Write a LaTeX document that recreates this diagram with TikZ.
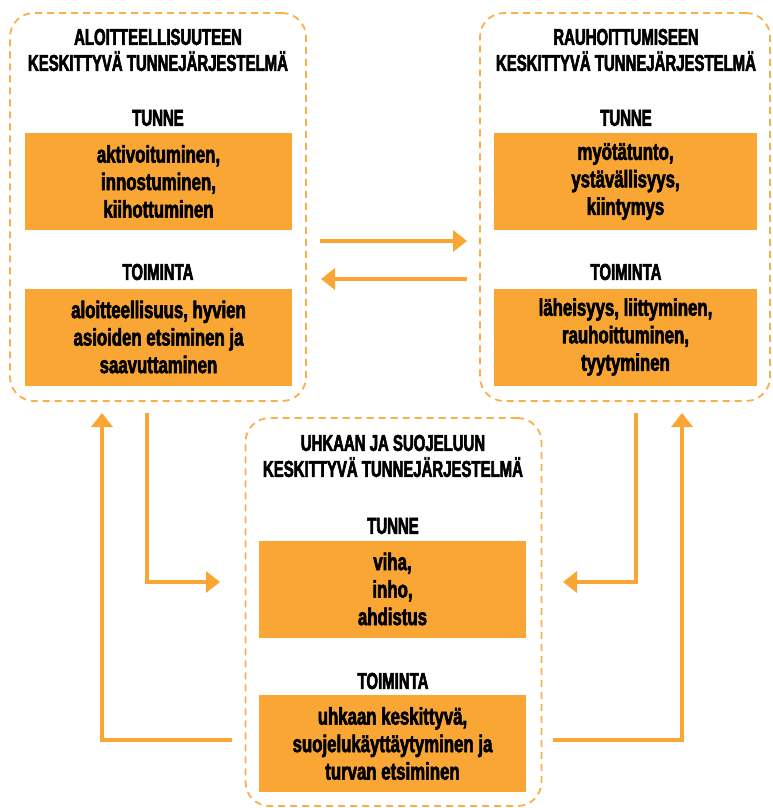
\documentclass[tikz,border=0pt]{standalone}
\usepackage{fontspec}
\newfontfamily\cond[FakeStretch=0.65,FakeBold=2.5]{Liberation Sans Bold}
\newfontfamily\condb[FakeStretch=0.70,FakeBold=2.5]{Liberation Sans Bold}
\usetikzlibrary{arrows.meta}
\definecolor{org}{HTML}{F9A634}
\definecolor{orgdash}{HTML}{F9B04A}
\tikzset{
  outer/.style={draw=orgdash, line width=1.8pt, dash pattern=on 7pt off 5pt, rounded corners=24pt, minimum width=#1, minimum height=388pt, inner sep=0pt},
  obox/.style={fill=org, minimum width=267pt, minimum height=97pt, inner sep=0pt, align=center, font=\condb\fontsize{24}{27.5}\selectfont},
  ttl/.style={align=center, inner sep=0pt, font=\cond\fontsize{23}{26}\selectfont},
  conn/.style={draw=org, line width=4pt, -{Triangle[length=14pt,width=21pt]}}
}
\begin{document}
\begin{tikzpicture}[x=1pt,y=-1pt]
\useasboundingbox (0,0) rectangle (773,808);
% outer dashed boxes
\node[outer=296pt] (L) at (158,207) {};
\node[outer=290pt] (R) at (625,207) {};
\node[outer=296pt] (B) at (393.5,612) {};
% left
\node[ttl] (Lt) at (158,50) {ALOITTEELLISUUTEEN\\KESKITTYVÄ TUNNEJÄRJESTELMÄ};
\node[ttl] (Ltu) at (158,118) {TUNNE};
\node[obox] (Lb1) at (158.5,181.5) {aktivoituminen,\\innostuminen,\\kiihottuminen};
\node[ttl] (Lto) at (158,272) {TOIMINTA};
\node[obox] (Lb2) at (158.5,337) {aloitteellisuus, hyvien\\asioiden etsiminen ja\\saavuttaminen};
% right
\node[ttl] (Rt) at (626,50) {RAUHOITTUMISEEN\\KESKITTYVÄ TUNNEJÄRJESTELMÄ};
\node[ttl] (Rtu) at (626,118) {TUNNE};
\node[obox, minimum width=263pt] (Rb1) at (625.5,181.5) {myötätunto,\\ystävällisyys,\\kiintymys};
\node[ttl] (Rto) at (626,272) {TOIMINTA};
\node[obox, minimum width=263pt] (Rb2) at (625.5,337) {läheisyys, liittyminen,\\rauhoittuminen,\\tyytyminen};
% bottom
\node[ttl] (Bt) at (393,456) {UHKAAN JA SUOJELUUN\\KESKITTYVÄ TUNNEJÄRJESTELMÄ};
\node[ttl] (Btu) at (393,526) {TUNNE};
\node[obox] (Bb1) at (392.5,589) {viha,\\inho,\\ahdistus};
\node[ttl] (Bto) at (393,681) {TOIMINTA};
\node[obox] (Bb2) at (392.5,743.5) {uhkaan keskittyvä,\\suojelukäyttäytyminen ja\\turvan etsiminen};
% connectors
\coordinate (h1s) at (320,241);
\coordinate (h1e) at (467,241);
\coordinate (h2s) at (467,279);
\coordinate (h2e) at (321,279);
\draw[conn] (h1s) -- (h1e);
\draw[conn] (h2s) -- (h2e);
\coordinate (la) at (232,740);
\coordinate (lt) at (102,413);
\draw[conn] (la) -| (lt);
\coordinate (lds) at (147,413);
\coordinate (lde) at (220,582);
\draw[conn] (lds) |- (lde);
\coordinate (rds) at (636,413);
\coordinate (rde) at (563,582);
\draw[conn] (rds) |- (rde);
\coordinate (ra) at (553,740);
\coordinate (rt) at (682,413);
\draw[conn] (ra) -| (rt);
\end{tikzpicture}
\end{document}
